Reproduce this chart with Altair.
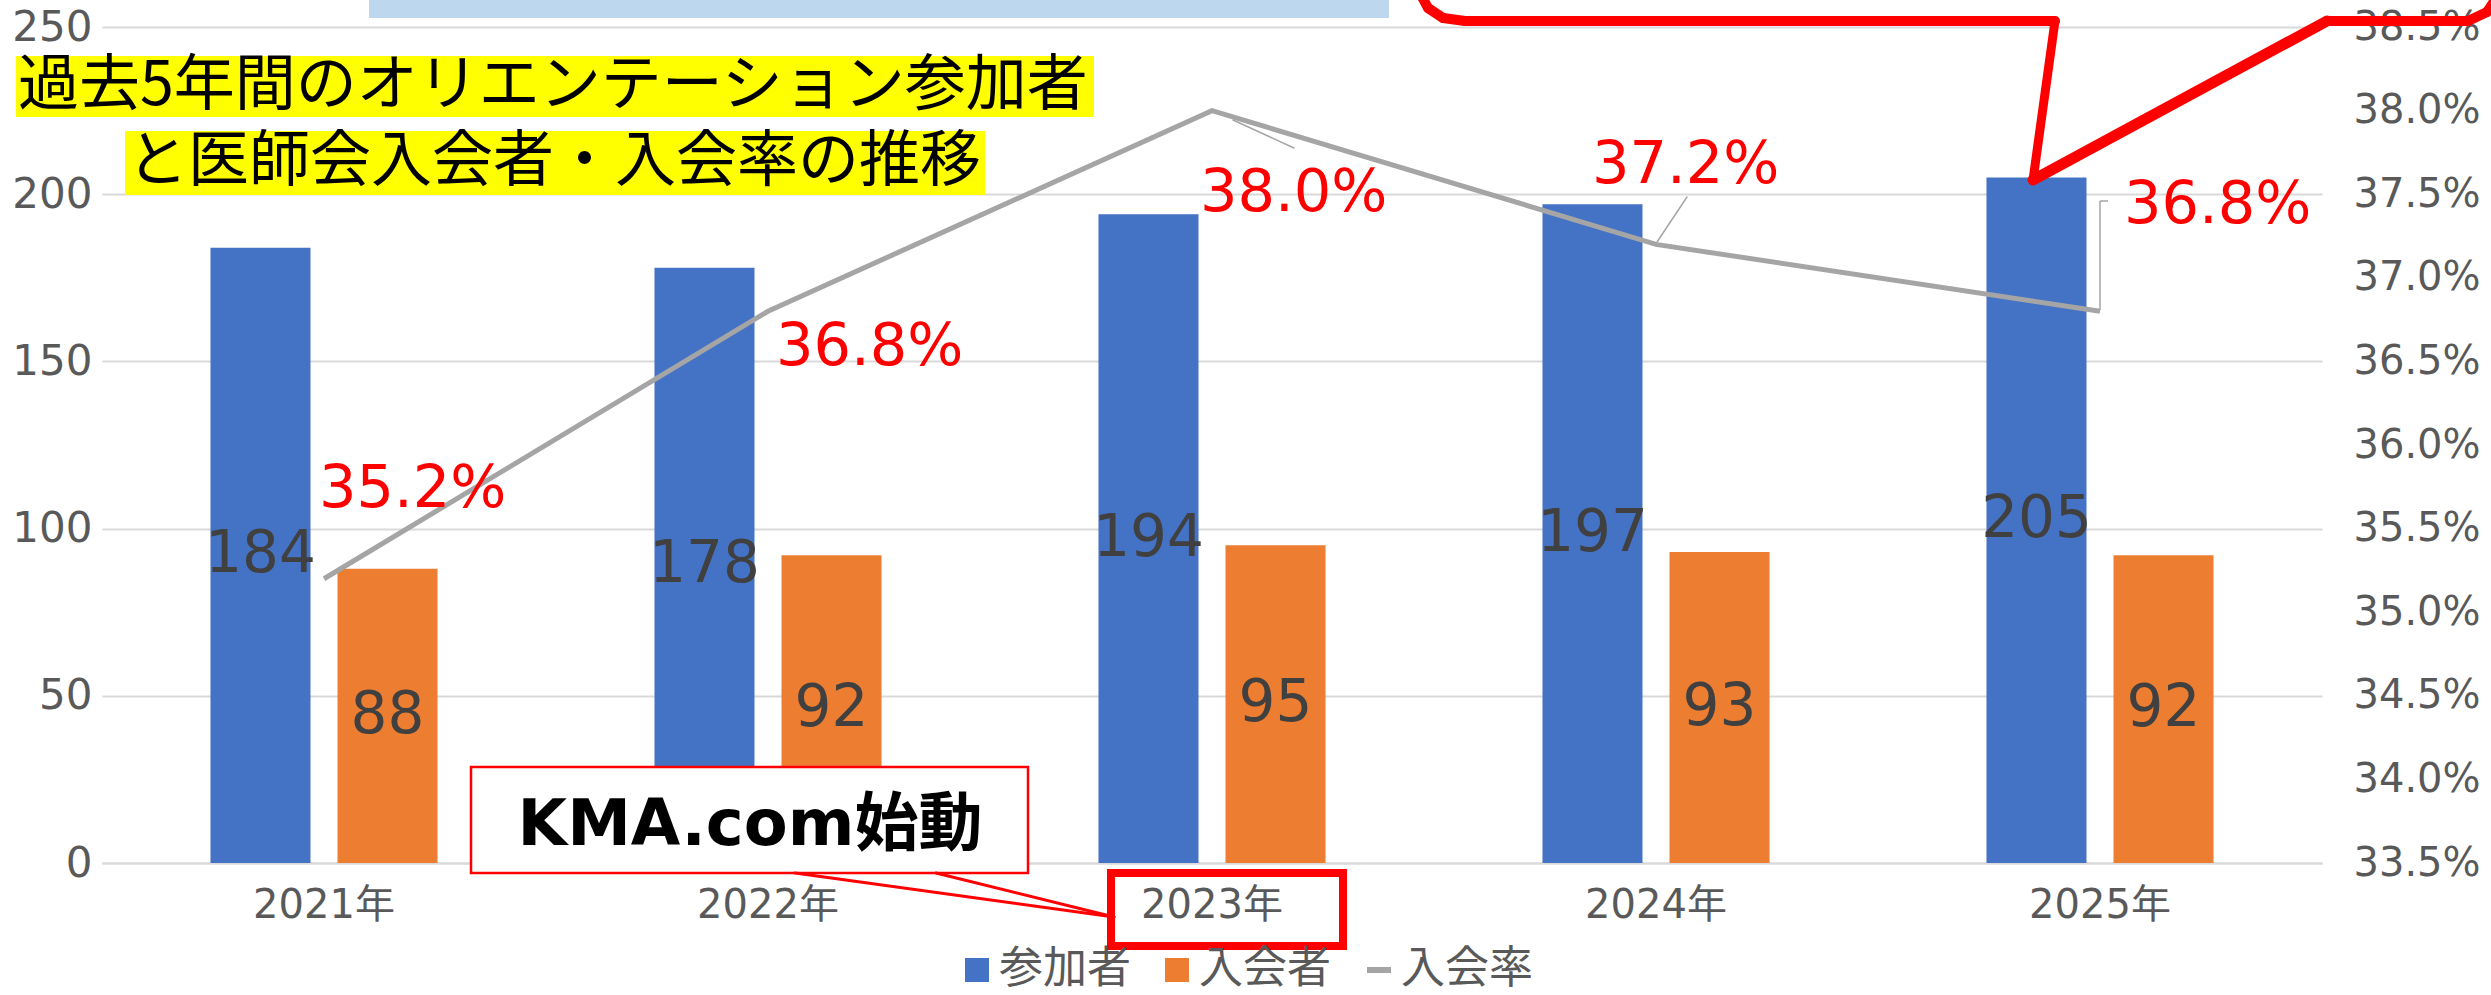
import altair as alt
import pandas as pd

# ---------------- data ----------------
years = ["2021年", "2022年", "2023年", "2024年", "2025年"]
participants = [184, 178, 194, 197, 205]          # 参加者
members = [88, 92, 95, 93, 92]                    # 入会者
rates = [35.2, 36.8, 38.0, 37.2, 36.8]            # 入会率 (%)
series_names = ["参加者", "入会者", "入会率"]
left_ticks = [0, 50, 100, 150, 200, 250]
right_ticks = [33.5, 34.0, 34.5, 35.0, 35.5, 36.0, 36.5, 37.0, 37.5, 38.0, 38.5]
title_lines = ["過去5年間のオリエンテーション参加者", "と医師会入会者・入会率の推移"]
callout_text = "KMA.com始動"

# ---------------- tables ----------------
bars_df = pd.DataFrame(
    {
        "year": years * 2,
        "series": [series_names[0]] * len(years) + [series_names[1]] * len(years),
        "value": participants + members,
    }
)
rate_df = pd.DataFrame({"year": years, "rate": rates, "series": [series_names[2]] * len(years)})
one = pd.DataFrame({"k": [0]})

# ---------------- style ----------------
NUM_FONT = "DejaVu Sans, Noto Sans CJK JP"
JP_FONT = "Noto Sans CJK JP"
BLUE, ORANGE, GRAY = "#4472C4", "#ED7D31", "#A5A5A5"
color_scale = alt.Scale(domain=series_names, range=[BLUE, ORANGE, GRAY])

legend = alt.Legend(
    title=None,
    orient="none",
    legendX=853,
    legendY=921,
    direction="horizontal",
    labelFont=JP_FONT,
    labelFontSize=44,
    labelColor="#595959",
    labelOffset=0,
    columnPadding=24,
    symbolSize=576,
    symbolType={"expr": "datum.value == '入会率' ? 'stroke' : 'square'"},
    symbolStrokeWidth={"expr": "datum.value == '入会率' ? 6 : 0"},
)

x_enc = alt.X(
    "year:N",
    sort=years,
    scale=alt.Scale(paddingInner=0, paddingOuter=0),
    axis=alt.Axis(
        title=None,
        labelFont=NUM_FONT,
        labelFontSize=40,
        labelColor="#595959",
        labelPadding=22,
        labelAngle=0,
        ticks=False,
        domainColor="#D9D9D9",
        domainWidth=2,
        grid=False,
    ),
)
x_plain = alt.X("year:N", sort=years)
xoff = alt.XOffset(
    "series:N",
    sort=series_names[:2],
    scale=alt.Scale(paddingInner=0.2126, paddingOuter=0.854),
)
y_count_scale = alt.Scale(domain=[0, 250], nice=False)
y_rate_scale = alt.Scale(domain=[33.5, 38.5], nice=False, zero=False)

bars = alt.Chart(bars_df).mark_bar().encode(
    x=x_enc,
    xOffset=xoff,
    y=alt.Y(
        "value:Q",
        scale=y_count_scale,
        axis=alt.Axis(
            title=None,
            values=left_ticks,
            labelFont=NUM_FONT,
            labelFontSize=42,
            labelColor="#595959",
            labelPadding=10,
            ticks=False,
            tickSize=0,
            domain=False,
            grid=True,
            gridColor="#D9D9D9",
            gridWidth=2,
        ),
    ),
    color=alt.Color("series:N", scale=color_scale, sort=series_names, legend=legend),
)

bar_labels = (
    alt.Chart(bars_df)
    .transform_calculate(mid="datum.value / 2")
    .mark_text(font=NUM_FONT, fontSize=58, color="#404040", baseline="middle", align="center")
    .encode(
        x=x_plain,
        xOffset=xoff,
        y=alt.Y("mid:Q", scale=y_count_scale, axis=None),
        text=alt.Text("value:Q"),
    )
)

line = alt.Chart(rate_df).mark_line(strokeWidth=5, strokeJoin="miter").encode(
    x=x_plain,
    y=alt.Y(
        "rate:Q",
        scale=y_rate_scale,
        axis=alt.Axis(
            orient="right",
            title=None,
            values=right_ticks,
            labelExpr="format(datum.value, '.1f') + '%'",
            labelFont=NUM_FONT,
            labelFontSize=40,
            labelColor="#595959",
            labelPadding=31,
            ticks=False,
            tickSize=0,
            domain=False,
            grid=False,
        ),
    ),
    color=alt.Color("series:N", scale=color_scale, sort=series_names, legend=legend),
)

# rate labels, each nudged like the hand-placed labels of the original
label_offsets = {
    "2021年": (-5, -72),
    "2022年": (8, 54),
    "2023年": (-12, 100),
    "2024年": (-64, -61),
    "2025年": (24, -88),
}
rate_label_layers = []
for yr in years:
    dx, dy = label_offsets[yr]
    rate_label_layers.append(
        alt.Chart(rate_df)
        .transform_filter(alt.datum.year == yr)
        .transform_calculate(label="format(datum.rate, '.1f') + '%'")
        .mark_text(
            font=NUM_FONT,
            fontSize=59,
            color="#FF0000",
            align="left",
            baseline="alphabetic",
            dx=dx,
            dy=dy,
        )
        .encode(
            x=x_plain,
            y=alt.Y("rate:Q", scale=y_rate_scale, axis=None),
            text="label:N",
        )
    )


# ---------------- decorations (pixel positions relative to the plot origin) ----------------
def seg(x1, y1, x2, y2, color, width, cap="round"):
    return alt.Chart(one).mark_rule(color=color, strokeWidth=width, strokeCap=cap).encode(
        x=alt.value(x1), y=alt.value(y1), x2=alt.value(x2), y2=alt.value(y2)
    )


def box(x1, y1, x2, y2, fill, stroke=None, sw=0):
    kw = dict(fill=fill)
    if stroke is not None:
        kw.update(stroke=stroke, strokeWidth=sw)
    return alt.Chart(one).mark_rect(**kw).encode(
        x=alt.value(x1), y=alt.value(y1), x2=alt.value(x2), y2=alt.value(y2)
    )


def label(txt, x, y, size, font, color="#000000", weight="normal", align="left"):
    return alt.Chart(one).mark_text(
        text=txt, font=font, fontSize=size, color=color, fontWeight=weight, align=align, baseline="middle"
    ).encode(x=alt.value(x), y=alt.value(y))


leaders = [
    seg(1131, 93, 1192, 121, GRAY, 1.5),
    seg(1555, 215, 1585, 170, GRAY, 1.5),
    seg(1998, 283, 1998, 174, GRAY, 1.5, "butt"),
    seg(1998, 174, 2006, 174, GRAY, 1.5, "butt"),
]

title_layers = [
    box(-86, 29, 992, 90, "#FFFF00"),
    box(23, 104, 883, 168, "#FFFF00"),
    label(title_lines[0], -84, 60, 61, JP_FONT),
    label(title_lines[1], 25, 136, 61, JP_FONT),
]

top_blue = box(267, -27, 1287, -9, "#BDD7EE")

red = "#FF0000"
callout_top = [
    seg(1319, -32, 1326, -19, red, 10),
    seg(1326, -19, 1341, -9, red, 10),
    seg(1341, -9, 1363, -6, red, 10),
    seg(1363, -6, 1953, -6, red, 10),
    seg(1953, -6, 1931, 153, red, 9),
    seg(1931, 153, 2225, -6, red, 11),
    seg(2225, -6, 2366, -6, red, 10),
    seg(2366, -6, 2385, -15, red, 10),
    seg(2385, -15, 2395, -30, red, 10),
]

kma = [
    box(369, 740, 926, 846, "#FFFFFF", red, 2.5),
    seg(693, 846, 1012, 890, red, 3),
    seg(834, 846, 1012, 890, red, 3),
    label(callout_text, 648, 799, 64, NUM_FONT, weight="bold", align="center"),
    alt.Chart(one).mark_rect(fill="transparent", stroke=red, strokeWidth=8).encode(
        x=alt.value(1009), y=alt.value(846), x2=alt.value(1241), y2=alt.value(919)
    ),
]

chart = (
    alt.layer(
        bars,
        bar_labels,
        line,
        *leaders,
        *rate_label_layers,
        *title_layers,
        top_blue,
        *kma,
        *callout_top,
    )
    .resolve_scale(y="independent")
    .properties(
        width=2220,
        height=836,
        autosize=alt.AutoSizeParams(type="none"),
        padding={"left": 102, "top": 27, "right": 169, "bottom": 132},
        background="#FFFFFF",
    )
    .configure_view(stroke=None)
)

chart.save("out.html", embed_options={"renderer": "svg", "actions": False})
